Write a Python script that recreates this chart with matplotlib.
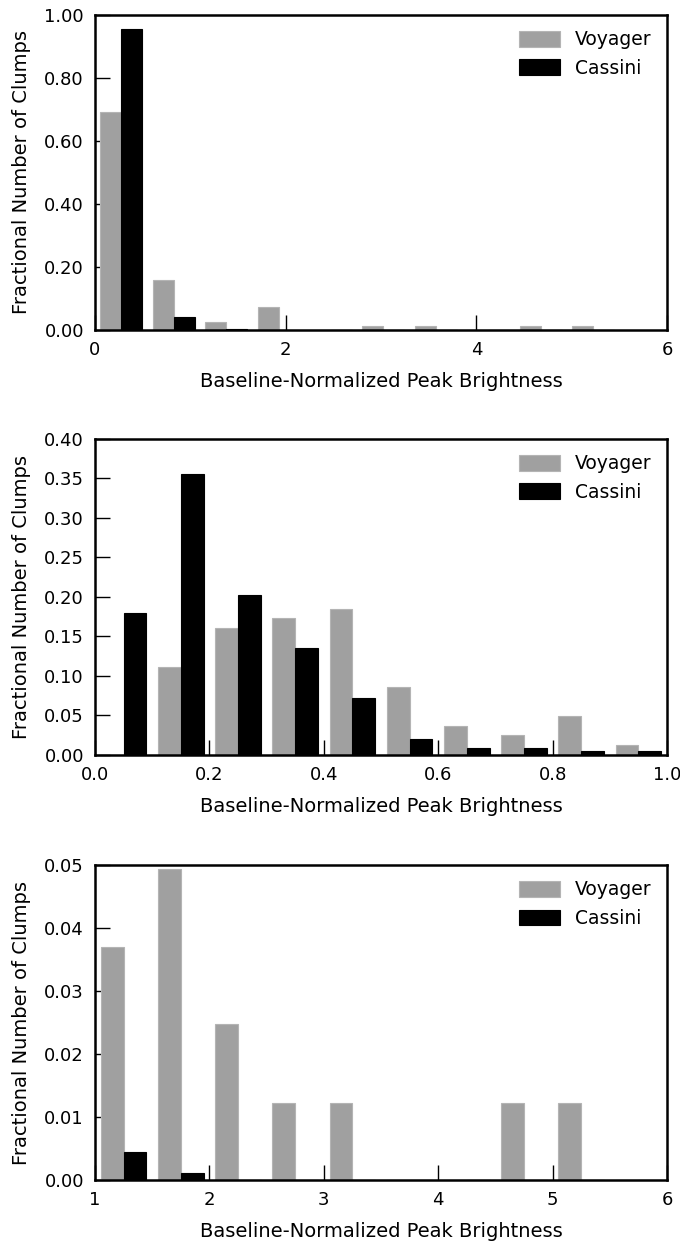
import numpy as np
import matplotlib
matplotlib.use("Agg")
import matplotlib.pyplot as plt

# Panel 1: bins of width 0.55 from 0 to 5.5
p1_edges = [0.0, 0.55, 1.1, 1.65, 2.2, 2.75, 3.3, 3.85, 4.4, 4.95, 5.5]
p1_voyager = [0.691, 0.160, 0.025, 0.074, 0.0, 0.012, 0.012, 0.0, 0.012, 0.012]
p1_cassini = [0.955, 0.040, 0.004, 0.001, 0.0, 0.0, 0.0, 0.0, 0.0, 0.0]

# Panel 2: bins of width 0.1 from 0 to 1
p2_edges = [0.0, 0.1, 0.2, 0.3, 0.4, 0.5, 0.6, 0.7, 0.8, 0.9, 1.0]
p2_voyager = [0.0, 0.111, 0.161, 0.173, 0.185, 0.086, 0.037, 0.025, 0.049, 0.012]
p2_cassini = [0.180, 0.356, 0.203, 0.136, 0.072, 0.020, 0.009, 0.009, 0.0045, 0.0045]

# Panel 3: bins of width 0.5 from 1 to 6
p3_edges = [1.0, 1.5, 2.0, 2.5, 3.0, 3.5, 4.0, 4.5, 5.0, 5.5, 6.0]
p3_voyager = [0.037, 0.0494, 0.0247, 0.0123, 0.0123, 0.0, 0.0, 0.0123, 0.0123, 0.0]
p3_cassini = [0.0045, 0.0011, 0.0, 0.0, 0.0, 0.0, 0.0, 0.0, 0.0, 0.0]

p1_xticks = [0, 2, 4, 6]
p1_yticks = [0.0, 0.2, 0.4, 0.6, 0.8, 1.0]
p2_xticks = [0.0, 0.2, 0.4, 0.6, 0.8, 1.0]
p2_yticks = [0.0, 0.05, 0.10, 0.15, 0.20, 0.25, 0.30, 0.35, 0.40]
p3_xticks = [1, 2, 3, 4, 5, 6]
p3_yticks = [0.0, 0.01, 0.02, 0.03, 0.04, 0.05]

GRAY = "#a0a0a0"
GRAY_EDGE = "#b4b4b4"
BLACK = "#000000"

plt.rcParams['font.family'] = ['DejaVu Sans']
plt.rcParams['font.size'] = 13

fig = plt.figure(figsize=(6.8, 12.45), dpi=100)

panels = [
    (p1_edges, p1_voyager, p1_cassini, p1_xticks, p1_yticks, "{:.2f}", "{:g}", (0, 6), (0, 1.0),
     [0.1397, 0.735, 0.8412, 0.253]),
    (p2_edges, p2_voyager, p2_cassini, p2_xticks, p2_yticks, "{:.2f}", "{:.1f}", (0, 1.0), (0, 0.40),
     [0.1397, 0.3936, 0.8412, 0.2538]),
    (p3_edges, p3_voyager, p3_cassini, p3_xticks, p3_yticks, "{:.2f}", "{:g}", (1, 6), (0, 0.05),
     [0.1397, 0.0522, 0.8412, 0.253]),
]

for edges, voy, cas, xt, yt, yfmt, xfmt, xlim, ylim, rect in panels:
    ax = fig.add_axes(rect)
    edges = np.asarray(edges)
    w = np.diff(edges)
    bw = 0.4 * w
    left = edges[:-1] + 0.1 * w
    ax.bar(left, voy, width=bw, align='edge', color=GRAY, edgecolor=GRAY_EDGE,
           linewidth=0.8, label="Voyager", zorder=2)
    ax.bar(left + bw, cas, width=bw, align='edge', color=BLACK, edgecolor=BLACK,
           linewidth=0.8, label="Cassini", zorder=2)
    ax.set_xlim(*xlim)
    ax.set_ylim(*ylim)
    ax.set_xticks(xt)
    ax.set_xticklabels([xfmt.format(v) for v in xt])
    ax.set_yticks(yt)
    ax.set_yticklabels([yfmt.format(v) for v in yt])
    ax.tick_params(direction='in', length=11, width=1, top=False, right=False,
                   pad=8, labelsize=13)
    for s in ax.spines.values():
        s.set_linewidth(1.8)
    ax.set_xlabel("Baseline-Normalized Peak Brightness", fontsize=14, labelpad=9)
    ax.set_ylabel("Fractional Number of Clumps", fontsize=14, labelpad=9.5)
    ax.legend(loc='upper right', frameon=False, fontsize=13.5, handlelength=2.2,
              handleheight=0.9, labelspacing=0.5, borderaxespad=0.42)

fig.savefig("out.png", dpi=100)
